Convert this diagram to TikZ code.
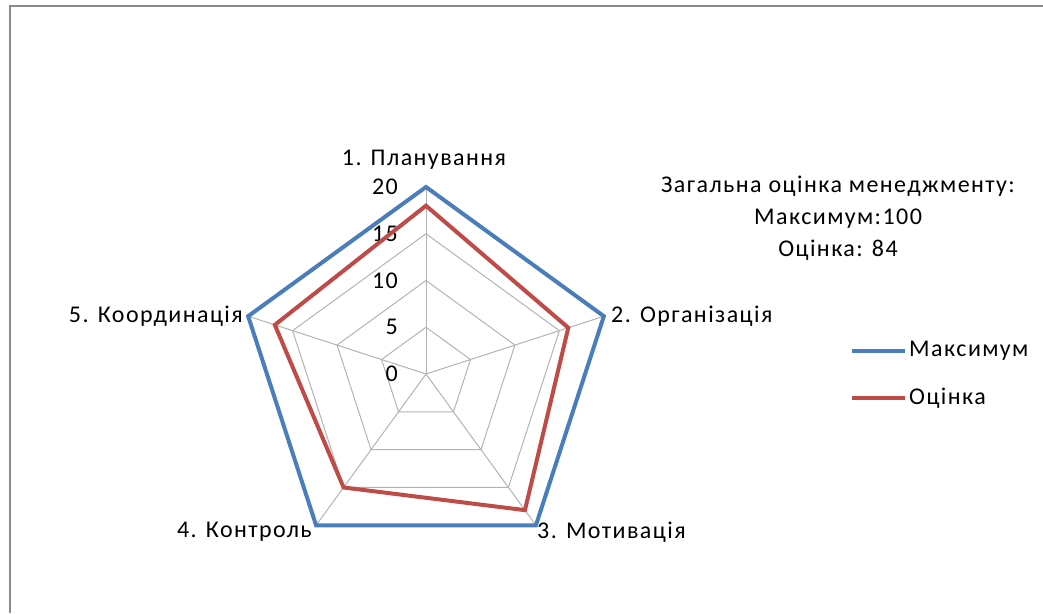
\documentclass[tikz,border=0pt]{standalone}
\usepackage{fontspec}
\setmainfont{Carlito}[LetterSpace=6]
\usetikzlibrary{calc}
\definecolor{maxblue}{HTML}{4A7EBB}
\definecolor{ocred}{HTML}{BE4B48}
\definecolor{gridgray}{HTML}{B3B3B3}
\definecolor{framegray}{HTML}{8C8C8C}
\tikzset{
  gridline/.style={draw=gridgray, line width=1pt},
  series/.style={line width=4pt, line join=miter},
  lbl/.style={font=\fontsize{24}{32}\selectfont, inner sep=0pt, text=black},
}
\begin{document}
\begin{tikzpicture}[x=1pt,y=1pt]
\useasboundingbox (0,0) rectangle (1043,613);
\draw[framegray, line width=2.5pt] (10,0) -- (10,607) -- (1043,607);
\coordinate (C) at (426,239);
% grid
\foreach \r in {46.75,93.5,140.25,187}{
  \draw[gridline] ([shift={(90:\r)}]C) -- ([shift={(18:\r)}]C) -- ([shift={(-54:\r)}]C) -- ([shift={(-126:\r)}]C) -- ([shift={(162:\r)}]C) -- cycle;
}
\foreach \a/\n in {90/1,18/2,-54/3,-126/4,162/5}{
  \coordinate (a\n) at ([shift={(\a:187)}]C);
  \draw[gridline] (C) -- (a\n);
}
% numbers
\foreach \v/\t in {0/0,1/5,2/10,3/15,4/20}{
  \node[lbl, anchor=east] (n\t) at (398, 239+\v*46.75) {\t};
}
% maximum
\draw[series, maxblue] (a1) -- (a2) -- (a3) -- (a4) -- (a5) -- cycle;
% estimate
\coordinate (r1) at ([shift={(90:168.3)}]C);
\coordinate (r2) at ([shift={(18:149.6)}]C);
\coordinate (r3) at ([shift={(-54:168.3)}]C);
\coordinate (r4) at ([shift={(-126:140.25)}]C);
\coordinate (r5) at ([shift={(162:158.95)}]C);
\draw[series, ocred] (r1) -- (r2) -- (r3) -- (r4) -- (r5) -- cycle;
% category labels
\node[lbl] (l1) at (424,453) {1. Планування};
\node[lbl, anchor=west] (l2) at (611,297) {2. Організація};
\node[lbl, anchor=west] (l3) at (537,81) {3. Мотивація};
\node[lbl, anchor=east] (l4) at (312,81) {4. Контроль};
\node[lbl, anchor=east] (l5) at (243,297) {5. Координація};
% annotation
\node[lbl, align=center] (note) at (838,395) {Загальна оцінка менеджменту:\\Максимум:100\\Оцінка: 84};
% legend
\coordinate (lb1) at (852,262);
\coordinate (lb2) at (905,262);
\draw[series, maxblue] (lb1) -- (lb2);
\node[lbl, anchor=west] (legmax) at (909,262) {Максимум};
\coordinate (lr1) at (852,215);
\coordinate (lr2) at (905,215);
\draw[series, ocred] (lr1) -- (lr2);
\node[lbl, anchor=west] (legoc) at (909,215) {Оцінка};
\end{tikzpicture}
\end{document}
